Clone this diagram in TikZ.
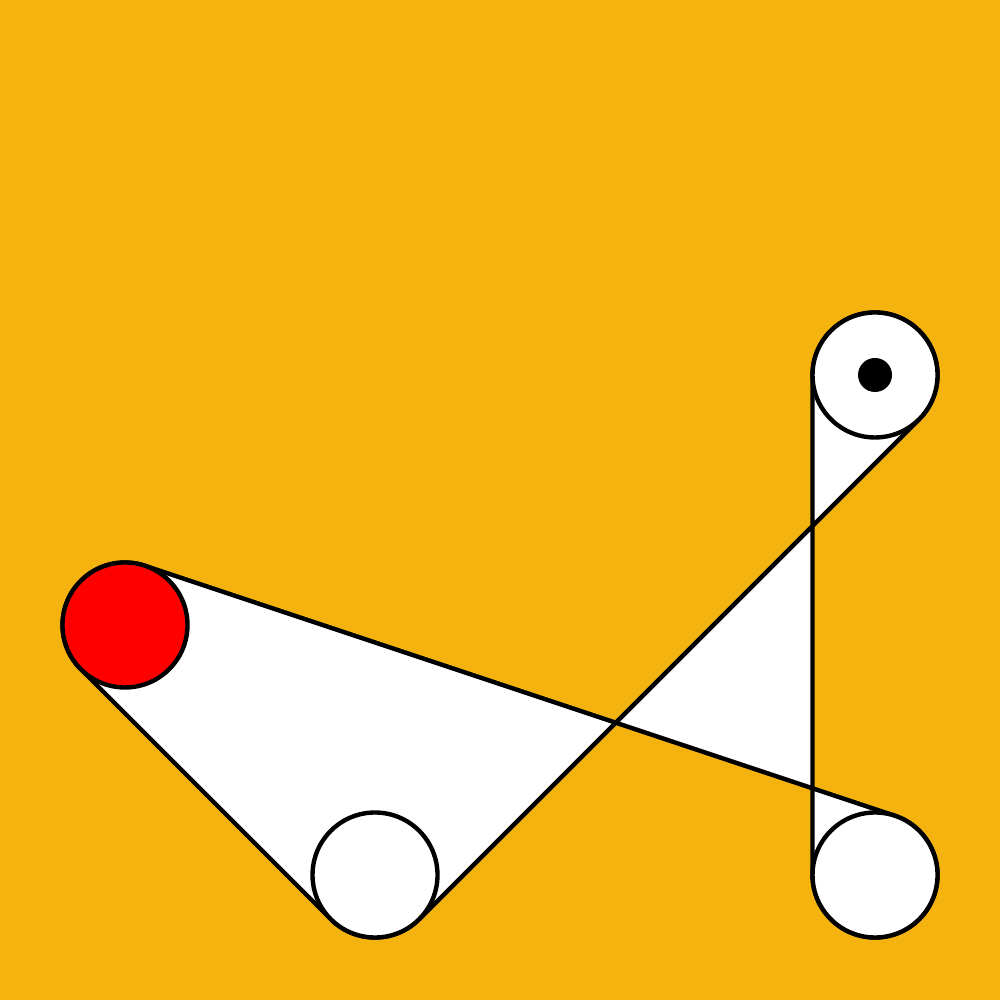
\documentclass[tikz,border=0pt]{standalone}
\usepackage{xcolor}
\usepackage{tikz}
\usetikzlibrary{calc}
\definecolor{bgorange}{HTML}{F5B30F}
\tikzset{pulley/.style={circle,draw=black,fill=white,line width=1.25pt,minimum size=1.25cm,inner sep=0pt}}

\begin{document}
\begin{tikzpicture}
\fill[bgorange] (0,0) rectangle (10,10);
\useasboundingbox (0,0) rectangle (10,10);
    \coordinate (red) at (1.25,3.75);
    \coordinate (bm) at (3.75,1.25);
    \coordinate (br) at (8.75,1.25);
    \coordinate (tr) at (8.75,6.25);
    % belt
    \draw[line width=1.25pt,fill=white,even odd rule,line join=round]
      ($(red)+(71.57:0.625)$) -- ($(br)+(71.57:0.625)$)
      arc[start angle=71.57,end angle=-180,radius=0.625]
      -- ($(tr)+(180:0.625)$)
      arc[start angle=180,end angle=-45,radius=0.625]
      -- ($(bm)+(-45:0.625)$)
      arc[start angle=-45,end angle=-135,radius=0.625]
      -- ($(red)+(225:0.625)$)
      arc[start angle=225,end angle=71.57,radius=0.625] -- cycle;
    \node[pulley,fill=red] (p1) at (red) {};
    \node[pulley] (p2) at (bm) {};
    \node[pulley] (p3) at (br) {};
    \node[pulley] (p4) at (tr) {};
    \fill[] (p4.center) circle (0.17cm);
    \end{tikzpicture}
\end{document}
